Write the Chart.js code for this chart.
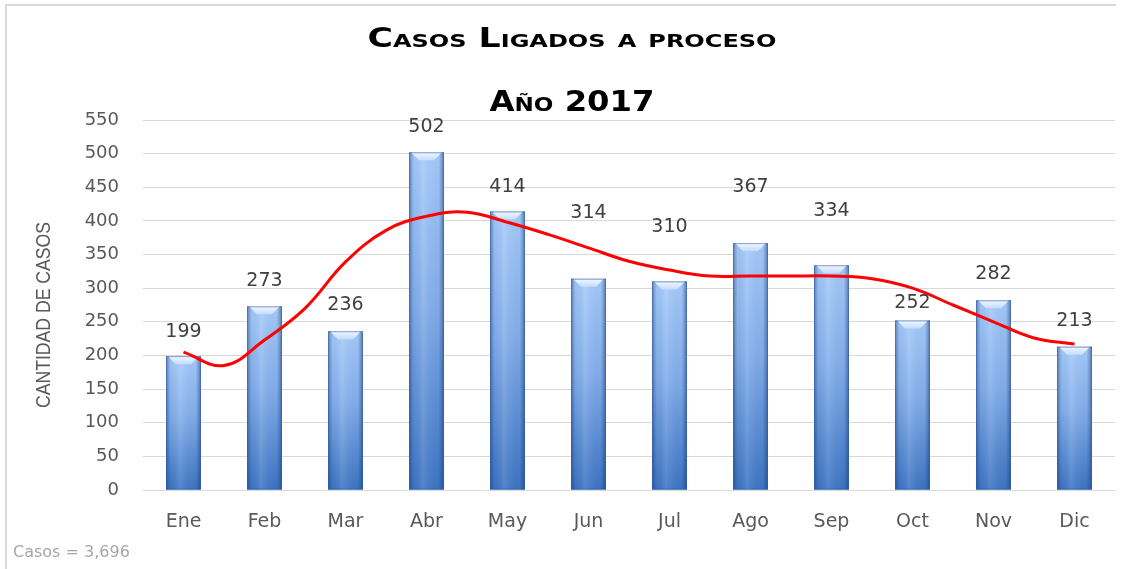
<!DOCTYPE html>
<html><head><meta charset="utf-8">
<script src="https://cdn.jsdelivr.net/npm/chart.js@4/dist/chart.umd.min.js"></script>
<style>html,body{margin:0;padding:0;background:#fff}#wrap{width:1132px;height:569px;position:relative}</style>
</head><body><div id="wrap"><canvas id="c" width="1132" height="569"></canvas></div>
<script>
const months = ['Ene','Feb','Mar','Abr','May','Jun','Jul','Ago','Sep','Oct','Nov','Dic'];
const casos = [199,273,236,502,414,314,310,367,334,252,282,213];
const yTicks = [0,50,100,150,200,250,300,350,400,450,500,550];
// trend line at whole and half month positions
const trendX = [0,0.5,1,1.5,2,2.5,3,3.5,4,4.5,5,5.5,6,6.5,7,7.5,8,8.5,9,9.5,10,10.5,11];
const trendY = [205,185,223,270,339,386,407,413,398,380,360,340,327,318,318,318,318,314,300,275,250,226,217];
const titleLine1 = 'Casos Ligados a proceso';
const titleLine2 = 'Año 2017';
const yTitle = 'CANTIDAD DE CASOS';
const footerText = 'Casos = 3,696';
// styling only: how far (px) each value label sits above its bar (labels moved clear of the trend line)
const labelLift = [24,25,26,25,24,66,54,56,54,17,26,26];

function fitText(ctx, text, cx, cy, targetW) {
  const w = ctx.measureText(text).width;
  const s = targetW / w;
  ctx.save();
  ctx.translate(cx, cy);
  ctx.scale(s, 1);
  ctx.textAlign = 'center';
  ctx.fillText(text, 0, 0);
  ctx.restore();
}

const decor = {
  id: 'decor',
  beforeDraw(chart) {
    const ctx = chart.ctx;
    ctx.save();
    ctx.fillStyle = '#fff';
    ctx.fillRect(0, 0, chart.width, chart.height);
    ctx.strokeStyle = '#d9d9d9';
    ctx.lineWidth = 2;
    ctx.beginPath();
    ctx.moveTo(6, chart.height);
    ctx.lineTo(6, 5);
    ctx.lineTo(1116, 5);
    ctx.stroke();
    ctx.restore();
  },
  afterDatasetDraw(chart, args) {
    if (args.index !== 0) return;
    const ctx = chart.ctx;
    const meta = chart.getDatasetMeta(0);
    ctx.save();
    meta.data.forEach(bar => {
      const w = bar.width, x0 = bar.x - w / 2, x1 = bar.x + w / 2, top = bar.y, base = bar.base;
      const h = base - top;
      let g = ctx.createLinearGradient(0, top, 0, base);
      g.addColorStop(0, '#a6cbfa');
      g.addColorStop(0.45, '#84afeb');
      g.addColorStop(1, '#3c74c2');
      ctx.fillStyle = g;
      ctx.fillRect(x0, top, w, h);
      let hg = ctx.createLinearGradient(x0, 0, x1, 0);
      hg.addColorStop(0, 'rgba(20,50,110,0.45)');
      hg.addColorStop(0.13, 'rgba(20,50,110,0.05)');
      hg.addColorStop(0.4, 'rgba(255,255,255,0.12)');
      hg.addColorStop(0.85, 'rgba(20,50,110,0.03)');
      hg.addColorStop(1, 'rgba(20,50,110,0.5)');
      ctx.fillStyle = hg;
      ctx.fillRect(x0, top, w, h);
      const bh = Math.min(8, h / 3);
      ctx.beginPath();
      ctx.moveTo(x0 + 2, top);
      ctx.lineTo(x1 - 2, top);
      ctx.lineTo(x1 - w * 0.28, top + bh);
      ctx.lineTo(x0 + w * 0.28, top + bh);
      ctx.closePath();
      let tg = ctx.createLinearGradient(0, top, 0, top + bh);
      tg.addColorStop(0, '#f2f8ff');
      tg.addColorStop(1, '#c4dcfb');
      ctx.fillStyle = tg;
      ctx.fill();
      ctx.strokeStyle = 'rgba(50,90,160,0.55)';
      ctx.lineWidth = 1;
      ctx.strokeRect(x0 + 0.5, top + 0.5, w - 1, h - 1);
    });
    ctx.restore();
  },
  afterDatasetsDraw(chart) {
    const ctx = chart.ctx;
    const meta = chart.getDatasetMeta(0);
    ctx.save();
    ctx.fillStyle = '#404040';
    ctx.font = '19px "DejaVu Sans"';
    ctx.textAlign = 'center';
    ctx.textBaseline = 'middle';
    meta.data.forEach((bar, i) => {
      ctx.fillText(String(casos[i]), bar.x, bar.y - labelLift[i]);
    });
    ctx.textBaseline = 'alphabetic';
    // titles
    ctx.fillStyle = '#000';
    ctx.font = 'small-caps bold 26px "DejaVu Sans"';
    fitText(ctx, titleLine1, 572, 47, 409);
    ctx.font = 'small-caps bold 28px "DejaVu Sans"';
    fitText(ctx, titleLine2, 572, 111, 165);
    // y title
    ctx.save();
    ctx.translate(50, 315);
    ctx.rotate(-Math.PI / 2);
    ctx.fillStyle = '#595959';
    ctx.font = '20px "Liberation Sans"';
    fitText(ctx, yTitle, 0, 0, 186);
    ctx.restore();
    // footer
    ctx.fillStyle = '#a6a6a6';
    ctx.font = '16px "DejaVu Sans"';
    ctx.textAlign = 'left';
    ctx.fillText(footerText, 13, 557);
    ctx.restore();
  }
};

new Chart(document.getElementById('c'), {
  data: {
    labels: months,
    datasets: [
      {
        type: 'bar',
        label: 'Casos',
        data: casos,
        backgroundColor: '#7aa6e6',
        grouped: false,
        categoryPercentage: 1,
        barPercentage: 0.43,
        order: 2
      },
      {
        type: 'line',
        label: 'Tendencia',
        xAxisID: 'xt',
        data: trendX.map((x, i) => ({ x: x, y: trendY[i] })),
        borderColor: '#ff0000',
        borderWidth: 3,
        pointRadius: 0,
        tension: 0.4,
        fill: false,
        order: 1
      }
    ]
  },
  options: {
    responsive: false,
    animation: false,
    events: [],
    layout: { padding: { left: 6, right: 17, top: 120, bottom: 0 } },
    plugins: { legend: { display: false }, tooltip: { enabled: false }, title: { display: false } },
    scales: {
      x: {
        type: 'category',
        offset: true,
        grid: { display: false, drawTicks: false },
        border: { display: true, color: '#d9d9d9', width: 1 },
        ticks: { color: '#595959', font: { family: '"DejaVu Sans"', size: 19 }, padding: 21, maxRotation: 0 },
        afterFit(scale) { scale.height = 79; }
      },
      xt: {
        type: 'linear',
        display: false,
        min: -0.5,
        max: 11.5
      },
      y: {
        min: 0,
        max: 550,
        afterBuildTicks(scale) { scale.ticks = yTicks.map(v => ({ value: v })); },
        grid: { color: '#d9d9d9', lineWidth: 1, drawTicks: false },
        border: { display: false },
        ticks: { color: '#595959', font: { family: '"DejaVu Sans"', size: 18 }, padding: 24 },
        afterFit(scale) { scale.width = 137; }
      }
    }
  },
  plugins: [decor]
});
</script></body></html>
